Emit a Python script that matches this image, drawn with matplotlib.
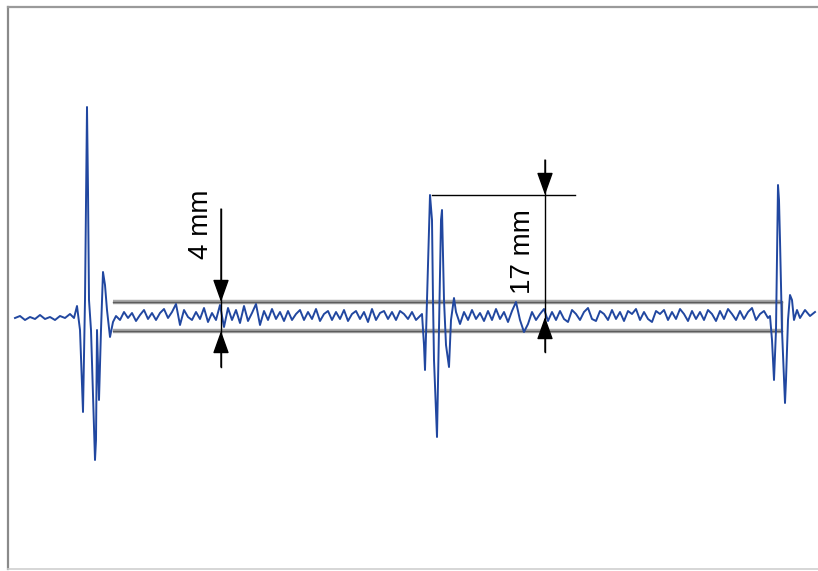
import numpy as np
import matplotlib.pyplot as plt

# trace, in pixel units (x right, y down)
PULSE1_X = [15, 20, 25, 30, 35, 40, 45, 50, 55, 60, 65, 70, 74, 77, 80, 83, 85, 87, 88, 89, 91,
            95, 96, 97, 99, 101, 103, 105, 107, 110, 113]
PULSE1_Y = [318, 316, 320, 317, 319, 315, 319, 317, 320, 316, 318, 314, 318, 306, 330, 412, 300, 107, 190, 300, 330,
            460, 440, 330, 400, 330, 272, 285, 310, 337, 322]

NOISE1_X = list(range(116, 417, 4))
NOISE1_Y = [316, 320, 312, 318, 313, 321, 315, 310, 319, 313,
            320, 313, 309, 318, 312, 304, 325, 310, 317, 320,
            312, 319, 308, 322, 313, 320, 305, 327, 308, 320,
            310, 323, 306, 321, 313, 304, 325, 311, 320, 309,
            319, 312, 321, 311, 320, 314, 310, 320, 312, 319,
            309, 321, 314, 311, 320, 312, 319, 310, 321, 314,
            311, 319, 312, 322, 309, 320, 313, 311, 319, 312,
            320, 311, 314, 319, 312, 320]

PULSE2_X = [420, 422, 424, 425, 427, 430, 432, 433, 434, 437, 439, 441, 442, 444, 446, 449, 451, 454, 456]
PULSE2_Y = [316, 314, 345, 370, 300, 195, 220, 300, 360, 437, 330, 220, 210, 300, 345, 367, 320, 298, 312]

NOISE2_X = list(range(460, 765, 4))
NOISE2_Y = [324, 312, 320, 310, 319, 313, 321, 311, 320, 309,
            319, 312, 322, 311, 302, 320, 332, 324, 312, 320,
            314, 309, 321, 312, 320, 311, 319, 322, 310, 314,
            320, 312, 308, 319, 321, 311, 314, 320, 310, 319,
            312, 321, 311, 314, 309, 320, 312, 319, 322, 311,
            314, 310, 320, 312, 319, 309, 314, 321, 311, 319,
            312, 320, 310, 314, 321, 311, 319, 309, 314, 320,
            311, 319, 312, 308, 320, 314, 311]

PULSE3_X = [768, 770, 772, 774, 776, 778, 779, 780, 782, 785, 786, 788, 790, 792, 794, 797, 800, 805, 810, 815]
PULSE3_Y = [318, 316, 340, 380, 330, 185, 200, 240, 330, 403, 380, 320, 295, 300, 320, 310, 318, 310, 316, 312]

# gate band and dimension marks
BAND_TOP = 302
BAND_BOTTOM = 331
BAND_LEFT = 113
BAND_RIGHT = 782
LABELS = ['4 mm', '17 mm']

trace_x = PULSE1_X + NOISE1_X + PULSE2_X + NOISE2_X + PULSE3_X
trace_y = PULSE1_Y + NOISE1_Y + PULSE2_Y + NOISE2_Y + PULSE3_Y

fig = plt.figure(figsize=(8.18, 5.71), dpi=100)
ax = fig.add_axes([0, 0, 1, 1])
ax.set_xlim(0, 818)
ax.set_ylim(571, 0)
ax.axis('off')

# frame
ax.plot([8, 8], [7, 569], color='#8a8a8a', lw=1.6)
ax.plot([8, 818], [7, 7], color='#9a9a9a', lw=1.6)
ax.plot([8, 818], [569, 569], color='#d0d0d0', lw=1.2)

# band
for yy in (BAND_TOP, BAND_BOTTOM):
    ax.plot([BAND_LEFT, BAND_RIGHT], [yy, yy], color='#a8a8a8', lw=3.2, solid_capstyle='butt')
    ax.plot([BAND_LEFT, BAND_RIGHT], [yy, yy], color='#5c5c5c', lw=1.0)
ax.plot([BAND_RIGHT, BAND_RIGHT], [BAND_TOP, BAND_BOTTOM], color='#7a7a7a', lw=1.6)

# signal
ax.plot(trace_x, trace_y, color='#2147a0', lw=1.4)

arrow = dict(arrowstyle='-|>,head_length=0.7,head_width=0.25', color='black', lw=1.0,
             mutation_scale=20, shrinkA=0, shrinkB=0)

# 4 mm
ax.plot([221, 221], [209, 367], color='black', lw=1.0)
ax.annotate('', xy=(221, BAND_TOP), xytext=(221, 209), arrowprops=arrow)
ax.annotate('', xy=(221, BAND_BOTTOM), xytext=(221, 367), arrowprops=arrow)
ax.text(201, 224, LABELS[0], rotation=90, ha='center', va='center',
        fontsize=20, family='Liberation Sans')

# 17 mm
ax.plot([432, 575], [195, 195], color='black', lw=1.0)
ax.plot([545, 545], [160, 352], color='black', lw=1.0)
ax.annotate('', xy=(545, 195), xytext=(545, 160), arrowprops=arrow)
ax.annotate('', xy=(545, 317), xytext=(545, 352), arrowprops=arrow)
ax.text(523, 252, LABELS[1], rotation=90, ha='center', va='center',
        fontsize=20, family='Liberation Sans')

fig.savefig('out.png', dpi=100)
